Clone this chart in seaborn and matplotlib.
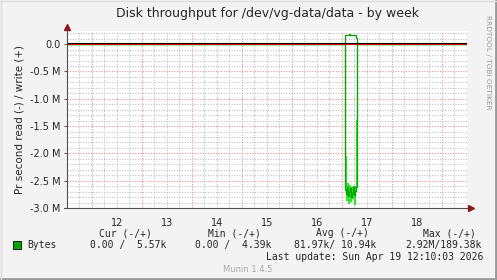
import matplotlib
matplotlib.use("Agg")
import matplotlib.pyplot as plt
import matplotlib.transforms as mtransforms
import numpy as np
import pandas as pd
import seaborn as sns

# ---------------- data (values in bytes/s, time in fractional day of April) ----------------
t_start = 11.507
t_end = 19.507
event_t = [11.507, 17.073, 17.093, 17.113, 17.133, 17.153, 17.173, 17.193,
           17.213, 17.233, 17.253, 17.273, 17.293, 17.313, 19.507]
write_vals = [0, 165e3, 166e3, 168e3, 167e3, 189e3, 170e3, 166e3,
              165e3, 166e3, 165e3, 166e3, 110e3, 0, 0]
read_dark = [0, -2.67e6, -2.74e6, -2.62e6, -2.78e6, -2.70e6, -2.64e6, -2.80e6,
             -2.72e6, -2.60e6, -2.76e6, -2.68e6, -2.62e6, 0, 0]
read_light = [0, -2.05e6, -2.85e6, -2.55e6, -2.90e6, -2.58e6, -2.88e6, -2.62e6,
              -2.82e6, -2.70e6, -2.92e6, -2.60e6, -1.39e6, 0, 0]

day_labels = ["12", "13", "14", "15", "16", "17", "18"]
day_label_pos = [12.5, 13.5, 14.5, 15.5, 16.5, 17.5, 18.5]
y_ticks = [0, -0.5e6, -1.0e6, -1.5e6, -2.0e6, -2.5e6, -3.0e6]
y_labels = ["0.0", "-0.5 M", "-1.0 M", "-1.5 M", "-2.0 M", "-2.5 M", "-3.0 M"]

legend_headers = ["Cur (-/+)", "Min (-/+)", "Avg (-/+)", "Max (-/+)"]
legend_values = ["0.00 /  5.57k", "0.00 /  4.39k", "81.97k/ 10.94k", "2.92M/189.38k"]
series_name = "Bytes"
last_update = "Last update: Sun Apr 19 12:10:03 2026"
footer = "Munin 1.4.5"
title = "Disk throughput for /dev/vg-data/data - by week"
ylabel = "Pr second read (-) / write (+)"

# ---------------- figure ----------------
sns.set_style("white")
plt.rcParams['font.family'] = ['DejaVu Sans']
W, H = 497, 280
BG = "#f3f3f3"
fig = plt.figure(figsize=(W / 100, H / 100), dpi=100, facecolor=BG)
L, R, T, B = 67, 467, 31, 208
ax = fig.add_axes([L / W, 1 - B / H, (R - L) / W, (B - T) / H])
ax.set_facecolor("white")
ax.set_xlim(t_start, t_end)
ax.set_ylim(-3.0e6, 0.24e6)

# grid
minor_c = "#bdbdbd"
major_c = "#f08a8a"
dot = (0, (1, 1.5))
for x in np.arange(11.75, t_end, 0.25):
    if abs(x - round(x)) > 1e-6:
        ax.axvline(x, color=minor_c, lw=0.75, ls=dot, zorder=1)
for y in np.arange(-2.9e6, 0.25e6, 0.1e6):
    if abs(y / 0.5e6 - round(y / 0.5e6)) > 1e-6:
        ax.axhline(y, color=minor_c, lw=0.75, ls=dot, zorder=1)
for x in range(12, 20):
    ax.axvline(x, color=major_c, lw=0.75, ls=dot, zorder=1.5)
for y in y_ticks[1:]:
    ax.axhline(y, color=major_c, lw=0.75, ls=dot, zorder=1.5)

# series
df = pd.DataFrame({"t": event_t, "write": write_vals, "rdark": read_dark, "rlight": read_light})
sns.lineplot(data=df, x="t", y="rlight", ax=ax, color="#33e033", lw=0.9,
             drawstyle="steps-post", estimator=None, sort=False, zorder=4)
sns.lineplot(data=df, x="t", y="rdark", ax=ax, color="#00a800", lw=0.9,
             drawstyle="steps-post", estimator=None, sort=False, zorder=5)
sns.lineplot(data=df, x="t", y="write", ax=ax, color="#00a800", lw=0.9,
             drawstyle="steps-post", estimator=None, sort=False, zorder=5)

# zero lines (drawn on top)
ax.axhline(0, color="#ee0000", lw=1.4, zorder=6)
off = mtransforms.offset_copy(ax.transData, fig=fig, x=0, y=1.5, units='dots')
ax.plot([t_start, t_end], [0, 0], color="black", lw=0.8, transform=off, zorder=6.5)

# axes
for s in ax.spines.values():
    s.set_visible(False)
axis_c = "#505050"
ax.plot([0, 0], [0, 1 + 3 / (B - T)], transform=ax.transAxes, color=axis_c, lw=0.8, clip_on=False, zorder=7)
ax.plot([-3 / (R - L), 1 + 3 / (R - L)], [0, 0], transform=ax.transAxes, color=axis_c, lw=0.8, clip_on=False, zorder=7)
ax.plot([1 + 4 / (R - L)], [0], marker=">", ms=4.5, color="#8b1a1a", transform=ax.transAxes, clip_on=False, zorder=8)
ax.plot([0], [1 + 4 / (B - T)], marker="^", ms=4.5, color="#8b1a1a", transform=ax.transAxes, clip_on=False, zorder=8)

ax.set_xticks(day_label_pos)
ax.set_xticklabels(day_labels, fontsize=7)
ax.set_yticks(y_ticks)
ax.set_yticklabels(y_labels, fontsize=7)
ax.tick_params(axis="x", length=0, pad=7)
ax.tick_params(axis="y", length=2.5, width=0.7, color=axis_c, pad=2, left=True)
ax.set_xlabel("")
ax.set_ylabel(ylabel, fontsize=7.5, labelpad=4)

# title and side texts
fig.text(267 / W, 1 - 14 / H, title, ha="center", va="center", fontsize=9)
fig.text(488 / W, 1 - 15 / H, "RRDTOOL / TOBI OETIKER", rotation=270, ha="center", va="top",
         fontsize=5.3, color="#9a9a9a")

# legend
mono = "DejaVu Sans Mono"
hdr_x = [99, 208, 316, 423]
val_x = [90, 195, 294, 405]
for x, h in zip(hdr_x, legend_headers):
    fig.text(x / W, 1 - 233 / H, h, family=mono, fontsize=7, ha="left", va="center")
for x, v in zip(val_x, legend_values):
    fig.text(x / W, 1 - 245 / H, v, family=mono, fontsize=7, ha="left", va="center")
fig.patches.append(plt.Rectangle((13 / W, 1 - 248.5 / H), 7.5 / W, 7.5 / H, transform=fig.transFigure,
                                 facecolor="#00a800", edgecolor="black", lw=0.6))
fig.text(27 / W, 1 - 245 / H, series_name, family=mono, fontsize=7, ha="left", va="center")
fig.text(483 / W, 1 - 257 / H, last_update, family=mono, fontsize=7, ha="right", va="center")
fig.text(248 / W, 1 - 269 / H, footer, fontsize=6, ha="center", va="center", color="#a8a8a8")

# image border
fig.add_artist(plt.Line2D([0, 1], [1 / H, 1 / H], transform=fig.transFigure, color="#9a9a9a", lw=2))
fig.add_artist(plt.Line2D([1 - 1 / W, 1 - 1 / W], [0, 1], transform=fig.transFigure, color="#9a9a9a", lw=2))
fig.add_artist(plt.Line2D([0, 1], [1 - 0.5 / H, 1 - 0.5 / H], transform=fig.transFigure, color="#dcdcdc", lw=1))
fig.add_artist(plt.Line2D([0.5 / W, 0.5 / W], [0, 1], transform=fig.transFigure, color="#dcdcdc", lw=1))

fig.savefig("out.png", dpi=100, facecolor=BG)
